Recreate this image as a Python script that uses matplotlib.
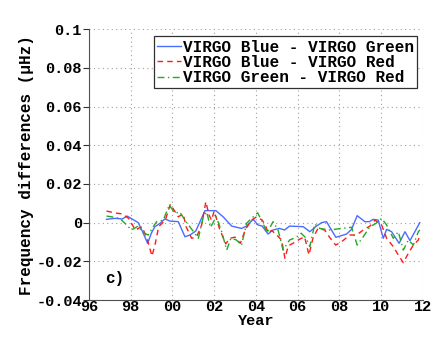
import matplotlib
matplotlib.use("Agg")
import matplotlib.pyplot as plt

# ---- data (years since 1900, frequency differences in microHz) ----
blue_x = [96.84, 97.25, 97.6, 97.83, 98.36, 98.57, 98.81, 99.0, 99.16, 99.4, 99.64, 99.88,
          100.28, 100.6, 100.84, 101.12, 101.56, 102.08, 102.43, 102.84, 103.31, 103.55,
          103.87, 104.1, 104.3, 104.58, 104.82, 105.13, 105.37, 105.61, 106.27, 106.58,
          106.9, 107.15, 107.38, 107.83, 108.34, 108.58, 108.85, 109.22, 109.43, 109.62,
          109.86, 110.1, 110.26, 110.5, 110.86, 111.14, 111.38, 111.7, 111.85]
blue_y = [0.0017, 0.0022, 0.0019, 0.0034, 0.0, -0.0047, -0.0107, -0.0052, -0.0021, -0.0004,
          0.0019, 0.0008, 0.0005, -0.0073, -0.0064, -0.0043, 0.0062, 0.0062, 0.003, -0.0018,
          -0.003, -0.0018, 0.0017, -0.0012, -0.0018, -0.0059, -0.0038, -0.003, -0.0038,
          -0.0018, -0.0021, -0.0047, -0.0018, 0.0, 0.0005, -0.0076, -0.0059, -0.0035, 0.0036,
          0.0005, 0.0005, 0.0017, 0.0013, -0.0081, -0.0035, -0.0047, -0.0107, -0.0047,
          -0.0093, -0.003, 0.0]

red_x = [96.84, 97.25, 97.6, 97.9, 98.22, 98.54, 98.78, 99.02, 99.18, 99.34, 99.66, 99.9,
         100.28, 100.52, 100.65, 100.92, 101.16, 101.4, 101.6, 101.75, 101.87, 102.0, 102.25,
         102.55, 102.75, 103.0, 103.25, 103.5, 103.79, 104.03, 104.3, 104.45, 104.59, 104.75,
         105.0, 105.23, 105.39, 105.55, 105.77, 106.09, 106.33, 106.54, 106.73, 106.97,
         107.29, 107.53, 107.82, 108.1, 108.5, 108.82, 109.14, 109.46, 109.7, 110.02,
         110.26, 110.58, 110.82, 111.06, 111.3, 111.54, 111.78, 111.85]
red_y = [0.006, 0.005, 0.0045, 0.0022, -0.0038, -0.0021, -0.0081, -0.0173, -0.0107, -0.0021,
         0.0013, 0.0095, 0.003, 0.0045, -0.002, -0.0081, -0.0073, -0.0012, 0.0108, 0.004,
         0.0013, 0.006, -0.003, -0.011, -0.0081, -0.0075, -0.0107, -0.0035, 0.0013, 0.003,
         0.0013, -0.0012, -0.0055, -0.004, -0.0065, -0.009, -0.0184, -0.012, -0.0107,
         -0.0086, -0.0073, -0.0167, -0.0081, -0.003, -0.0038, -0.0076, -0.0116, -0.0099,
         -0.0064, -0.0064, -0.0038, -0.0018, 0.0013, -0.0012, -0.0081, -0.0124, -0.0167,
         -0.0207, -0.0159, -0.0116, -0.009, -0.0064]

green_x = [96.84, 97.08, 97.48, 97.8, 98.04, 98.36, 98.6, 98.84, 99.08, 99.24, 99.56, 99.85,
           100.12, 100.34, 100.68, 101.0, 101.24, 101.48, 101.64, 101.82, 102.1, 102.36,
           102.6, 102.8, 103.07, 103.31, 103.55, 103.79, 104.08, 104.3, 104.54, 104.82,
           105.06, 105.3, 105.61, 105.93, 106.17, 106.41, 106.58, 106.82, 107.06, 107.53,
           108.1, 108.58, 108.85, 109.14, 109.46, 109.75, 110.02, 110.26, 110.58, 110.82,
           111.06, 111.3, 111.54, 111.78, 111.85]
green_y = [0.0034, 0.003, 0.0022, -0.0012, -0.0038, -0.0018, -0.0052, -0.0064, -0.0021, 0.0005,
           0.0013, 0.0091, 0.0048, 0.0056, 0.0, -0.0045, -0.0081, 0.003, 0.0056, -0.0025,
           0.003, -0.0047, -0.0142, -0.0081, -0.009, -0.0116, -0.0004, 0.0022, 0.0051,
           0.0005, -0.0052, 0.0005, -0.0038, -0.0142, -0.009, -0.0076, -0.0055, -0.0081,
           -0.0124, -0.0007, -0.003, -0.0038, -0.003, -0.0024, -0.0116, -0.0073, -0.0021,
           -0.0004, 0.0022, -0.0012, -0.0081, -0.0047, -0.0142, -0.009, -0.0116, -0.0047,
           -0.0038]

series_labels = ["VIRGO Blue - VIRGO Green", "VIRGO Blue - VIRGO Red",
                 "VIRGO Green - VIRGO Red"]
xtick_pos = [96, 98, 100, 102, 104, 106, 108, 110, 112]
xtick_labels = ["96", "98", "00", "02", "04", "06", "08", "10", "12"]
ytick_pos = [-0.04, -0.02, 0.0, 0.02, 0.04, 0.06, 0.08, 0.1]
ytick_labels = ["-0.04", "-0.02", "0", "0.02", "0.04", "0.06", "0.08", "0.1"]

plt.rcParams['font.family'] = ['Liberation Mono', 'DejaVu Sans Mono']
plt.rcParams['font.weight'] = 'bold'

fig = plt.figure(figsize=(4.36, 3.39), dpi=100)
ax = fig.add_axes([0.204, 0.115, 0.766, 0.799])

ax.plot(blue_x, blue_y, color='#4a6cff', lw=1.0, ls='-', label=series_labels[0])
ax.plot(red_x, red_y, color='#ff1a1a', lw=1.0, ls=(0, (4, 3)), label=series_labels[1])
ax.plot(green_x, green_y, color='#22aa22', lw=1.0, ls=(0, (5, 2.5, 1, 2.5)), label=series_labels[2])

ax.set_xlim(96, 112)
ax.set_ylim(-0.04, 0.1)
ax.set_xticks(xtick_pos)
ax.set_xticklabels(xtick_labels)
ax.set_yticks(ytick_pos)
ax.set_yticklabels(ytick_labels)

ax.grid(True, ls=(0, (1, 3)), color='#a0a0a0', lw=0.8)
for s in ['top', 'right']:
    ax.spines[s].set_visible(False)
for s in ['left', 'bottom']:
    ax.spines[s].set_color('#505050')
    ax.spines[s].set_linewidth(0.8)

ax.tick_params(axis='y', direction='out', length=4, width=0.8, color='#303030',
               labelsize=11, pad=1)
ax.tick_params(axis='x', direction='in', length=0, labelsize=11, pad=0)
for lab in ax.get_xticklabels() + ax.get_yticklabels():
    lab.set_fontweight('bold')

ax.set_xlabel("Year", fontsize=11, fontweight='bold', labelpad=0)
ax.set_ylabel("Frequency differences (\u03bcHz)", fontsize=11.5, fontweight='bold', labelpad=2)

ax.text(0.048, 0.08, "c)", transform=ax.transAxes, fontsize=11.5, fontweight='bold',
        va='center', ha='left')

leg = ax.legend(loc='upper right', bbox_to_anchor=(0.992, 0.985),
                frameon=True, fancybox=False, framealpha=1, edgecolor='#303030',
                handlelength=1.5, handletextpad=0.1, labelspacing=0.02,
                borderpad=0.2, borderaxespad=0.2,
                prop={'weight': 'bold', 'size': 11.5})
leg.get_frame().set_linewidth(0.9)

fig.savefig("out.png", dpi=100)
